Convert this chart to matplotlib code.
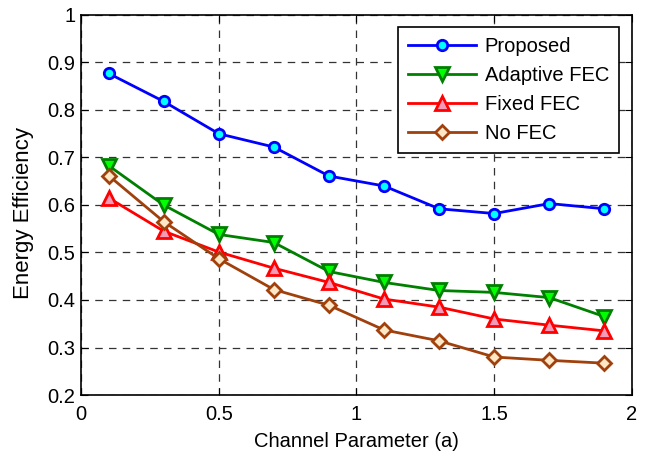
import matplotlib
matplotlib.use("Agg")
import matplotlib.pyplot as plt
import numpy as np

plt.rcParams["font.family"] = ["Liberation Sans", "DejaVu Sans"]

x = [0.1, 0.3, 0.5, 0.7, 0.9, 1.1, 1.3, 1.5, 1.7, 1.9]
proposed = [0.877, 0.818, 0.750, 0.722, 0.661, 0.640, 0.592, 0.582, 0.603, 0.592]
adaptive_fec = [0.683, 0.600, 0.538, 0.521, 0.460, 0.437, 0.420, 0.416, 0.405, 0.365]
fixed_fec = [0.615, 0.545, 0.501, 0.467, 0.437, 0.402, 0.385, 0.360, 0.347, 0.335]
no_fec = [0.662, 0.565, 0.487, 0.422, 0.389, 0.337, 0.314, 0.280, 0.273, 0.267]

xticks = [0, 0.5, 1, 1.5, 2]
xticklabels = ["0", "0.5", "1", "1.5", "2"]
yticks = [0.2, 0.3, 0.4, 0.5, 0.6, 0.7, 0.8, 0.9, 1.0]
yticklabels = ["0.2", "0.3", "0.4", "0.5", "0.6", "0.7", "0.8", "0.9", "1"]

fig = plt.figure(figsize=(6.5, 4.53), dpi=100)
ax = fig.add_axes([0.1246, 0.128, 0.8477, 0.839])

lw = 2.0
ax.plot(x, proposed, "-o", color="#0000ff", mfc="#00ffff", mec="#0000ff",
        ms=7.5, mew=2, lw=lw, label="Proposed")
ax.plot(x, adaptive_fec, "-v", color="#008000", mfc="#00ff00", mec="#008000",
        ms=10, mew=2, lw=lw, label="Adaptive FEC")
ax.plot(x, fixed_fec, "-^", color="#ff0000", mfc="#f29ab8", mec="#ff0000",
        ms=10, mew=2, lw=lw, label="Fixed FEC")
ax.plot(x, no_fec, "-D", color="#a0400c", mfc="#ffe6c4", mec="#a0400c",
        ms=7.5, mew=2, lw=lw, label="No FEC")

ax.set_xlim(0, 2)
ax.set_ylim(0.2, 1)
ax.set_xticks(xticks)
ax.set_xticklabels(xticklabels)
ax.set_yticks(yticks)
ax.set_yticklabels(yticklabels)
ax.tick_params(direction="in", labelsize=14.5, length=5, width=0.8,
               top=True, right=True)
ax.tick_params(axis="x", pad=7)
ax.tick_params(axis="y", pad=4)
ax.grid(True, color="#333333", linestyle=(0, (6, 5)), linewidth=0.9)
for s in ax.spines.values():
    s.set_linewidth(1.2)

ax.set_xlabel("Channel Parameter (a)", fontsize=14.5, labelpad=6)
ax.set_ylabel("Energy Efficiency", fontsize=16)
ax.yaxis.set_label_coords(-0.085, 0.48)

leg = ax.legend(loc="upper right", fontsize=14.5, fancybox=False, framealpha=1,
                edgecolor="black", handlelength=3.4, handletextpad=0.4,
                borderpad=0.5, labelspacing=0.5, borderaxespad=0,
                bbox_to_anchor=(0.9764, 0.9684))
leg.get_frame().set_linewidth(1.2)

fig.savefig("out.png", dpi=100)
